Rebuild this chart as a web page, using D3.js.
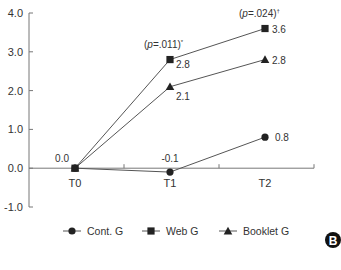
<!DOCTYPE html>
<html>
<head>
<meta charset="utf-8">
<script src="https://cdn.jsdelivr.net/npm/d3@7"></script>
<style>
  body { margin: 0; background: #fff; }
  text { font-family: "Liberation Sans", Arial, sans-serif; fill: #333; }
</style>
</head>
<body>
<div id="chart"></div>
<script>
// chart values
const timepoints = ['T0', 'T1', 'T2'];
const yTicks = [-1, 0, 1, 2, 3, 4];
const contG = [0.0, -0.1, 0.8];
const webG = [0.0, 2.8, 3.6];
const bookletG = [0.0, 2.1, 2.8];
const seriesNames = ['Cont. G', 'Web G', 'Booklet G'];
const pNotes = [null, '(p=.011)*', '(p=.024)†'];

const width = 341, height = 270;
const svg = d3.select('#chart').append('svg')
    .attr('width', width)
    .attr('height', height);

const x = d3.scaleBand().domain(timepoints).range([29, 314]);
const y = d3.scaleLinear().domain([-1, 4]).range([207, 13]);
const xc = t => x(t) + x.bandwidth() / 2 - 1.5;

const axisColor = '#777';

// y axis
svg.append('line')
    .attr('x1', 29).attr('x2', 29)
    .attr('y1', y(4)).attr('y2', y(-1))
    .attr('stroke', axisColor);
yTicks.forEach(v => {
    svg.append('line')
        .attr('x1', 29).attr('x2', 33)
        .attr('y1', y(v)).attr('y2', y(v))
        .attr('stroke', axisColor);
    svg.append('text')
        .attr('x', 23).attr('y', y(v) + 4)
        .attr('text-anchor', 'end')
        .attr('font-size', 11)
        .text(d3.format('.1f')(v).replace('−', '-'));
});

// x axis at zero
svg.append('line')
    .attr('x1', 29).attr('x2', 314)
    .attr('y1', y(0)).attr('y2', y(0))
    .attr('stroke', axisColor);
timepoints.forEach(t => {
    const bx = x(t) + x.bandwidth();
    svg.append('line')
        .attr('x1', bx).attr('x2', bx)
        .attr('y1', y(0)).attr('y2', y(0) - 4)
        .attr('stroke', axisColor);
    svg.append('text')
        .attr('x', xc(t)).attr('y', y(0) + 19)
        .attr('text-anchor', 'middle')
        .attr('font-size', 11)
        .text(t);
});

const line = d3.line().x((d, i) => xc(timepoints[i])).y(d => y(d));
const lineColor = '#555', markColor = '#222';

function marker(g, type, cx, cy) {
    if (type === 'circle') {
        g.append('circle').attr('cx', cx).attr('cy', cy).attr('r', 3.6).attr('fill', markColor);
    } else if (type === 'square') {
        g.append('rect').attr('x', cx - 3.6).attr('y', cy - 3.6).attr('width', 7.2).attr('height', 7.2).attr('fill', markColor);
    } else {
        g.append('path').attr('d', `M${cx},${cy - 4.3} L${cx + 4.3},${cy + 3.4} L${cx - 4.3},${cy + 3.4} Z`).attr('fill', markColor);
    }
}

const series = [
    { vals: contG, type: 'circle' },
    { vals: webG, type: 'square' },
    { vals: bookletG, type: 'triangle' }
];

const plot = svg.append('g');
series.forEach(s => {
    plot.append('path')
        .attr('d', line(s.vals))
        .attr('fill', 'none')
        .attr('stroke', lineColor)
        .attr('stroke-width', 1);
});
series.forEach(s => {
    s.vals.forEach((v, i) => marker(plot, s.type, xc(timepoints[i]), y(v)));
});

// value labels
const lbl = (tx, ty, txt, anchor) => svg.append('text')
    .attr('x', tx).attr('y', ty)
    .attr('text-anchor', anchor || 'start')
    .attr('font-size', 10)
    .text(txt);

lbl(xc('T0') - 6, y(contG[0]) - 6, contG[0].toFixed(1), 'end');
lbl(xc('T1'), y(contG[1]) - 10, contG[1].toFixed(1), 'middle');
lbl(xc('T2') + 10, y(contG[2]) + 4, contG[2].toFixed(1));
lbl(xc('T1') + 6, y(webG[1]) + 8, webG[1].toFixed(1));
lbl(xc('T2') + 7, y(webG[2]) + 4, webG[2].toFixed(1));
lbl(xc('T1') + 6, y(bookletG[1]) + 13, bookletG[1].toFixed(1));
lbl(xc('T2') + 7, y(bookletG[2]) + 4, bookletG[2].toFixed(1));

// p-value notes
pNotes.forEach((note, i) => {
    if (!note) return;
    const t = svg.append('text')
        .attr('x', xc(timepoints[i]) - 26)
        .attr('y', y(webG[i]) - 12)
        .attr('font-size', 10);
    t.append('tspan').text('(');
    t.append('tspan').attr('font-style', 'italic').text('p');
    t.append('tspan').text(note.slice(2, -1));
    t.append('tspan').attr('font-size', 6).attr('dy', -4).text(note.slice(-1));
});

// legend
const legendX = [63, 142, 219];
const legendY = 231;
seriesNames.forEach((name, i) => {
    const lx = legendX[i];
    svg.append('line')
        .attr('x1', lx).attr('x2', lx + 18)
        .attr('y1', legendY).attr('y2', legendY)
        .attr('stroke', lineColor);
    marker(svg, series[i].type, lx + 9, legendY);
    svg.append('text')
        .attr('x', lx + 24).attr('y', legendY + 4)
        .attr('font-size', 10.5)
        .text(name);
});

// panel badge
svg.append('circle').attr('cx', 333).attr('cy', 240).attr('r', 8).attr('fill', '#111');
svg.append('text')
    .attr('x', 333).attr('y', 244.5)
    .attr('text-anchor', 'middle')
    .attr('font-size', 12)
    .attr('font-weight', 'bold')
    .style('fill', '#fff')
    .text('B');
</script>
</body>
</html>
